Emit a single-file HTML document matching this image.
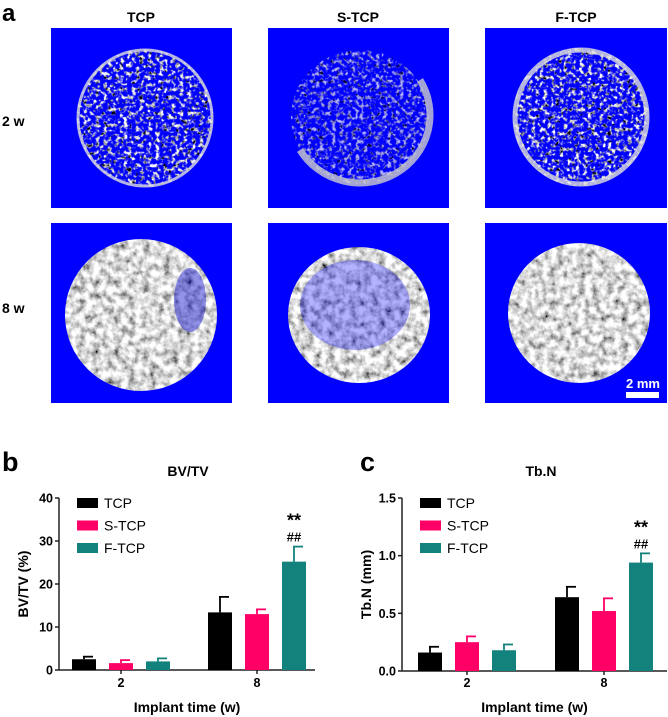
<!DOCTYPE html>
<html><head><meta charset="utf-8">
<style>
body{margin:0;background:#fff;width:668px;height:717px;overflow:hidden;font-family:"Liberation Sans",Arial,sans-serif;}
svg{position:absolute;left:0;top:0}
text{font-family:"Liberation Sans",Arial,sans-serif}
</style></head>
<body>
<svg width="668" height="717" viewBox="0 0 668 717">
<defs>
<filter id="tex8" x="0" y="0" width="100%" height="100%">
 <feTurbulence type="fractalNoise" baseFrequency="0.14" numOctaves="4" seed="3" result="n"/>
 <feColorMatrix in="n" type="matrix" values="1.8 0 0 0 -0.2  1.8 0 0 0 -0.2  1.8 0 0 0 -0.2  0 0 0 0 1" result="g"/>
 <feComposite in="g" in2="SourceAlpha" operator="in"/>
</filter>
<filter id="tex2" x="0" y="0" width="100%" height="100%">
 <feTurbulence type="fractalNoise" baseFrequency="0.25" numOctaves="2" seed="7" result="n"/>
 <feColorMatrix in="n" type="matrix" values="3 0 0 0 -0.9  3 0 0 0 -0.9  3 0 0 0 -0.9  0 5 0 0 -2.3" result="g"/>
 <feComposite in="g" in2="SourceAlpha" operator="in"/>
</filter>
</defs>
<g>
<text x="2" y="21" font-size="24" font-weight="bold">a</text>
<text x="141" y="22" font-size="14" font-weight="bold" text-anchor="middle">TCP</text>
<text x="358" y="22" font-size="14" font-weight="bold" text-anchor="middle">S-TCP</text>
<text x="576" y="22" font-size="14" font-weight="bold" text-anchor="middle">F-TCP</text>
<text x="2" y="126" font-size="14" font-weight="bold">2 w</text>
<text x="2" y="313" font-size="14" font-weight="bold">8 w</text>

<rect x="51" y="28" width="181" height="180" fill="#0000ff"/>
<rect x="268" y="28" width="181" height="180" fill="#0000ff"/>
<rect x="485" y="28" width="182" height="180" fill="#0000ff"/>
<rect x="51" y="223" width="181" height="180" fill="#0000ff"/>
<rect x="268" y="223" width="181" height="180" fill="#0000ff"/>
<rect x="485" y="223" width="182" height="180" fill="#0000ff"/>

<ellipse cx="145" cy="118" rx="68" ry="69" fill="#000" filter="url(#tex2)"/>
<ellipse cx="145" cy="118" rx="67" ry="68" fill="none" stroke="#ddd" stroke-width="3" opacity="0.8"/>
<ellipse cx="360" cy="117" rx="69" ry="67" fill="#000" filter="url(#tex2)" opacity="0.7"/>
<path d="M300 150 A69 67 0 0 0 420 80" fill="none" stroke="#ccc" stroke-width="7" opacity="0.8"/>
<ellipse cx="581" cy="117" rx="68" ry="69" fill="#000" filter="url(#tex2)"/>
<ellipse cx="581" cy="117" rx="66" ry="67" fill="none" stroke="#ddd" stroke-width="5" opacity="0.8"/>

<ellipse cx="141" cy="315" rx="76" ry="76" fill="#000" filter="url(#tex8)"/>
<ellipse cx="190" cy="300" rx="16" ry="32" fill="#1010d0" opacity="0.45"/>
<ellipse cx="359" cy="315" rx="71" ry="68" fill="#000" filter="url(#tex8)"/>
<ellipse cx="355" cy="305" rx="55" ry="45" fill="#0000ff" opacity="0.3"/>
<ellipse cx="579" cy="313" rx="71" ry="70" fill="#000" filter="url(#tex8)"/>

<text x="643" y="388" font-size="13" font-weight="bold" fill="#fff" text-anchor="middle">2 mm</text>
<rect x="626" y="392" width="33" height="6" fill="#fff"/>
</g>

<g id="chartB"></g>
<g id="chartC"></g>
</svg>
<script>
const groups = ["2", "8"];
const seriesNames = ["TCP", "S-TCP", "F-TCP"];
const colors = ["#000000", "#ff0066", "#14827c"];
const bvMean = [[2.5, 1.6, 2.0], [13.4, 13.0, 25.2]];
const bvErr = [[0.6, 0.7, 0.7], [3.6, 1.1, 3.5]];
const bvTicks = [0, 10, 20, 30, 40];
const tbMean = [[0.16, 0.25, 0.18], [0.64, 0.52, 0.94]];
const tbErr = [[0.05, 0.05, 0.05], [0.09, 0.11, 0.08]];
const tbTicks = ["0.0", "0.5", "1.0", "1.5"];
const NS = "http://www.w3.org/2000/svg";
function mk(parent, tag, attrs, txt) {
  const e = document.createElementNS(NS, tag);
  for (const k in attrs) e.setAttribute(k, attrs[k]);
  if (txt !== undefined) e.textContent = txt;
  parent.appendChild(e); return e;
}
function drawChart(g, o) {
  const y = v => o.y0 - (v / o.max) * (o.y0 - o.yTop);
  const bx = (gi, si) => o.x0 + o.groupStart[gi] + si * 37;
  const lbl = mk(g, "text", {x: o.lx, y: 471, "font-size": 27, "font-weight": "bold"}, o.letter);
  
  
  const t = mk(g, "text", {x: o.tx, y: 476, "font-size": 14, "font-weight": "bold", "text-anchor": "middle"}, o.title);
  
  
  const ya = mk(g, "line", {x1: o.x0, y1: o.yTop, x2: o.x0, y2: o.y0 + 0.5, stroke: "#222", "stroke-width": 1.5});
  
  
  const xa = mk(g, "line", {x1: o.x0, y1: o.y0, x2: o.xEnd, y2: o.y0, stroke: "#222", "stroke-width": 1.5});
  
  
  o.ticks.forEach(tv => {
    const v = parseFloat(tv);
    mk(g, "line", {x1: o.x0 - 4, y1: y(v), x2: o.x0, y2: y(v), stroke: "#222", "stroke-width": 1.5});
    const tl = mk(g, "text", {x: o.x0 - 6, y: y(v) + 4.5, "font-size": 12.5, "font-weight": "bold", "text-anchor": "end"}, String(tv));
    
    
  });
  groups.forEach((gn, gi) => {
    const cx = bx(gi, 1) + 12;
    mk(g, "line", {x1: cx, y1: o.y0, x2: cx, y2: o.y0 + 4, stroke: "#222", "stroke-width": 1.5});
    const xl = mk(g, "text", {x: cx, y: 687, "font-size": 12.5, "font-weight": "bold", "text-anchor": "middle"}, gn);
    
    
    seriesNames.forEach((sn, si) => {
      const m = o.mean[gi][si], e = o.err[gi][si];
      const x = bx(gi, si);
      const ex = x + 12;
      mk(g, "line", {x1: ex, y1: y(m), x2: ex, y2: y(m + e), stroke: colors[si], "stroke-width": 1.8});
      mk(g, "line", {x1: ex - 1, x2: ex + 9, y1: y(m + e), y2: y(m + e), stroke: colors[si], "stroke-width": 1.8});
      const b = mk(g, "rect", {x: x, y: y(m), width: 24, height: o.y0 - y(m), fill: colors[si]});
      
      
    });
  });
  const last = o.mean[1][2] + o.err[1][2];
  const sx = bx(1, 2) + 12;
  const s1 = mk(g, "text", {x: sx, y: y(last) - 20, "font-size": 18, "font-weight": "bold", "text-anchor": "middle"}, "**");
  
  
  const s2 = mk(g, "text", {x: sx, y: y(last) - 5, "font-size": 13, "font-weight": "bold", "text-anchor": "middle"}, "##");
  
  
  seriesNames.forEach((sn, si) => {
    const ly = 498 + si * 22.5;
    const sw = mk(g, "rect", {x: o.x0 + 18, y: ly, width: 21, height: 10, fill: colors[si]});
    
    
    const lt = mk(g, "text", {x: o.x0 + 45, y: ly + 10, "font-size": 14}, sn);
    
    
  });
  const xt = mk(g, "text", {x: (o.x0 + o.xEnd) / 2, y: 712, "font-size": 14, "font-weight": "bold", "text-anchor": "middle"}, "Implant time (w)");
  
  
  const yt = mk(g, "text", {x: 0, y: 0, "font-size": 14, "font-weight": "bold", "text-anchor": "middle", transform: "translate(" + (o.x0 - 31) + "," + ((o.y0 + o.yTop) / 2) + ") rotate(-90)"}, o.ytitle);
  
  
}
drawChart(document.getElementById("chartB"), {letter: "b", lx: 2, tx: 188, title: "BV/TV", x0: 59, xEnd: 315, y0: 670, yTop: 498, max: 40, ticks: bvTicks, mean: bvMean, err: bvErr, groupStart: [13, 149], ytitle: "BV/TV (%)"});
drawChart(document.getElementById("chartC"), {letter: "c", lx: 360, tx: 541, title: "Tb.N", x0: 402, xEnd: 667, y0: 671, yTop: 498, max: 1.5, ticks: tbTicks, mean: tbMean, err: tbErr, groupStart: [16, 153], ytitle: "Tb.N (mm)"});
</script>
</body></html>
